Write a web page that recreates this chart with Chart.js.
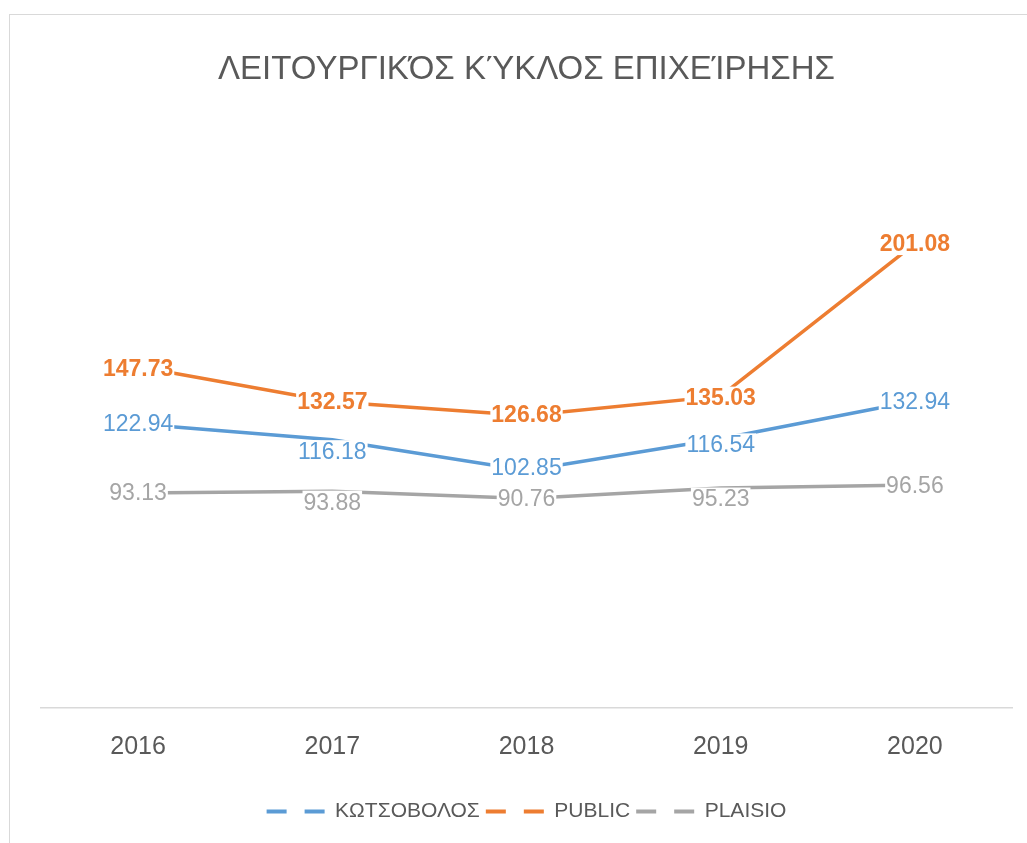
<!DOCTYPE html>
<html>
<head>
<meta charset="utf-8">
<script src="https://cdn.jsdelivr.net/npm/chart.js@4.4.1/dist/chart.umd.min.js"></script>
<style>
  html, body { margin: 0; padding: 0; background: #fff; overflow: hidden; }
  #box {
    position: absolute; left: 9px; top: 14px;
    width: 1033px; height: 840px;
    border: 1.5px solid #d9d9d9;
  }
  #box canvas { position: absolute; left: 0; top: 0; }
</style>
</head>
<body>
<div id="box"><canvas id="myChart" width="1033" height="828"></canvas></div>
<script>
const years = ['2016', '2017', '2018', '2019', '2020'];
const kotsovolos = [122.94, 116.18, 102.85, 116.54, 132.94];
const publicVals = [147.73, 132.57, 126.68, 135.03, 201.08];
const plaisio = [93.13, 93.88, 90.76, 95.23, 96.56];

const FONT = '"Liberation Sans", Arial, sans-serif';

// data labels drawn on a white patch, like the Excel original
const valueLabels = {
  id: 'valueLabels',
  afterDatasetsDraw(chart) {
    const ctx = chart.ctx;
    chart.data.datasets.forEach((ds, i) => {
      const meta = chart.getDatasetMeta(i);
      ctx.save();
      ctx.font = (ds.labelBold ? 'bold ' : '') + '23px ' + FONT;
      ctx.textAlign = 'center';
      ctx.textBaseline = 'middle';
      meta.data.forEach((pt, j) => {
        const txt = ds.data[j].toFixed(2);
        const w = ctx.measureText(txt).width;
        const x = pt.x;
        const y = pt.y + (ds.labelShift ? ds.labelShift[j] : 0);
        ctx.fillStyle = '#fff';
        ctx.fillRect(x - w / 2 - 1, y - 11.5, w + 2, 23);
        ctx.fillStyle = ds.borderColor;
        ctx.fillText(txt, x, y + 1);
      });
      ctx.restore();
    });
  }
};

const ctx = document.getElementById('myChart').getContext('2d');
new Chart(ctx, {
  type: 'line',
  data: {
    labels: years,
    datasets: [{
      label: 'ΚΩΤΣΟΒΟΛΟΣ',
      data: kotsovolos,
      borderColor: '#5B9BD5',
      backgroundColor: '#5B9BD5',
      labelShift: [0, 12, -3, 6, 1]
    }, {
      label: 'PUBLIC',
      data: publicVals,
      borderColor: '#ED7D31',
      backgroundColor: '#ED7D31',
      labelBold: true,
      labelShift: [2, 0, -1, 2, 0]
    }, {
      label: 'PLAISIO',
      data: plaisio,
      borderColor: '#A5A5A5',
      backgroundColor: '#A5A5A5',
      labelShift: [0, 11, 0, 11, 1]
    }]
  },
  options: {
    responsive: false,
    animation: false,
    elements: {
      line: { borderWidth: 3.5, tension: 0, borderCapStyle: 'round' },
      point: { radius: 0, hoverRadius: 0 }
    },
    layout: { padding: { left: 31, right: 31, top: 0, bottom: 11 } },
    scales: {
      x: {
        offset: true,
        grid: { display: false },
        border: { display: true, color: '#d9d9d9', width: 1.5 },
        ticks: { color: '#595959', font: { family: FONT, size: 25 }, padding: 16 },
        afterFit(scale) { scale.height += 17; }
      },
      y: {
        display: false,
        min: 0,
        max: 250
      }
    },
    plugins: {
      title: {
        display: true,
        text: 'ΛΕΙΤΟΥΡΓΙΚΌΣ ΚΎΚΛΟΣ ΕΠΙΧΕΊΡΗΣΗΣ',
        color: '#595959',
        font: { family: FONT, size: 33, weight: 'normal', lineHeight: 1.2 },
        padding: { top: 35, bottom: 41 }
      },
      legend: {
        position: 'bottom',
        labels: {
          color: '#595959',
          font: { family: FONT, size: 21 },
          usePointStyle: true,
          pointStyleWidth: 58,
          padding: 6,
          generateLabels(chart) {
            const items = Chart.defaults.plugins.legend.labels.generateLabels(chart);
            items.forEach(it => {
              it.pointStyle = 'line';
              it.lineDash = [20, 18];
              it.lineWidth = 4;
            });
            return items;
          }
        }
      },
      tooltip: { enabled: false }
    }
  },
  plugins: [valueLabels]
});
</script>
</body>
</html>
